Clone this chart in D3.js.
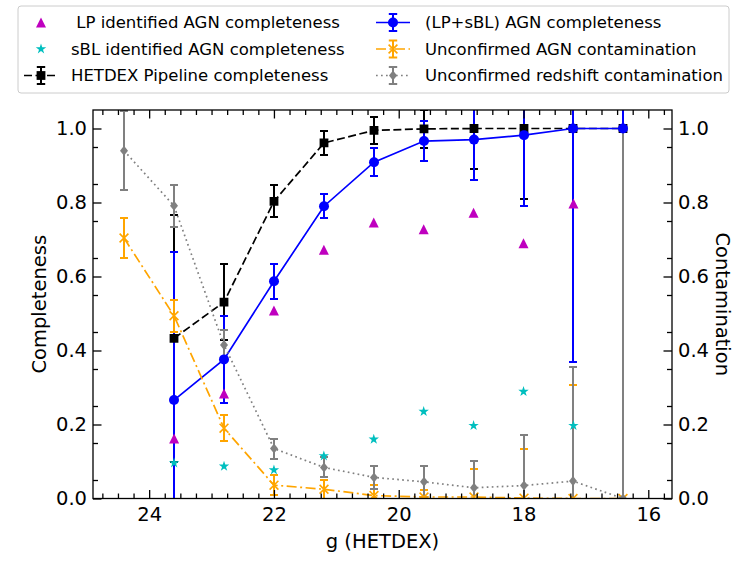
<!DOCTYPE html>
<html><head><meta charset="utf-8">
<script src="https://cdn.jsdelivr.net/npm/d3@7"></script>
<style>
body{margin:0;background:#fff;}
svg{display:block;font-family:"DejaVu Sans",sans-serif;}
</style></head>
<body><svg id="c" width="747" height="561"></svg>
<script>
// ---- data ----
const bins = [24.4, 23.6, 22.8, 22.0, 21.2, 20.4, 19.6, 18.8, 18.0, 17.2, 16.4];
const redshiftContam    = [0.940, 0.791, 0.415, 0.135, 0.084, 0.057, 0.045, 0.029, 0.035, 0.047, 0.0];
const redshiftContamErr = [0.107, 0.056, 0.040, 0.027, 0.027, 0.031, 0.042, 0.072, 0.137, 0.309, 1.0];
const agnContam    = [0.704, 0.494, 0.190, 0.036, 0.025, 0.008, 0.004, 0.004, 0.001, 0.0, 0.0];
const agnContamErr = [0.054, 0.043, 0.035, 0.027, 0.025, 0.028, 0.020, 0.075, 0.133, 0.308, 0.0];
const compBins = [23.6, 22.8, 22.0, 21.2, 20.4, 19.6, 18.8, 18.0, 17.2, 16.4];
const pipelineComp    = [0.433, 0.531, 0.803, 0.961, 0.995, 0.999, 1.0, 1.0, 1.0, 1.0];
const pipelineCompErr = [0.334, 0.103, 0.043, 0.032, 0.037, 0.052, 0.109, 0.190, 0.632, 1.1];
const lpsblComp    = [0.266, 0.376, 0.587, 0.790, 0.909, 0.966, 0.970, 0.982, 1.0, 1.0];
const lpsblCompErr = [0.399, 0.118, 0.048, 0.033, 0.037, 0.055, 0.110, 0.192, 0.632, 1.1];
const idBins = [23.6, 22.8, 22.0, 21.2, 20.4, 19.6, 18.8, 18.0, 17.2];
const lpComp  = [0.162, 0.284, 0.508, 0.672, 0.746, 0.728, 0.772, 0.690, 0.797];
const sblComp = [0.096, 0.087, 0.077, 0.115, 0.160, 0.235, 0.197, 0.289, 0.197];
const xMajorTicks = [24, 22, 20, 18, 16];
const yMajorTicks = [0.0, 0.2, 0.4, 0.6, 0.8, 1.0];
const legendLabels = [" LP identified AGN completeness", "sBL identified AGN completeness", "HETDEX Pipeline completeness",
  "(LP+sBL) AGN completeness", "Unconfirmed AGN contamination", "Unconfirmed redshift contamination"];

// ---- layout ----
const svg = d3.select("#c");
const L = 93, R = 672, T = 110, B = 498.5;
const x = d3.scaleLinear().domain([24.9, 15.62]).range([L, R]);
const y = d3.scaleLinear().domain([0, 1.05]).range([B, T]);
const FS = 19.5, LFS = 16.5;

svg.append("defs").append("clipPath").attr("id", "clip")
  .append("rect").attr("x", L).attr("y", T).attr("width", R - L).attr("height", B - T);

// marker path generators
const mk = {
  circle: s => `M${s},0A${s},${s} 0 1,1 ${-s},0A${s},${s} 0 1,1 ${s},0Z`,
  square: s => `M${-s},${-s}H${s}V${s}H${-s}Z`,
  tri: s => `M0,${-s}L${s},${s}L${-s},${s}Z`,
  diamond: s => `M0,${-s*1.25}L${s},0L0,${s*1.25}L${-s},0Z`,
  x: s => `M${-s},${-s}L${s},${s}M${-s},${s}L${s},${-s}`,
  star: s => d3.symbol(d3.symbolStar, s * s * 1.25)()
};

const series = [
  {name:"pipe", xs: compBins, ys: pipelineComp, err: pipelineCompErr, color:"#000000", dash:"8,3.5", marker:"square", ms:4.4},
  {name:"lpsbl", xs: compBins, ys: lpsblComp, err: lpsblCompErr, color:"#0000ff", dash:null, marker:"circle", ms:5},
  {name:"agn", xs: bins, ys: agnContam, err: agnContamErr, color:"#ffa500", dash:"10,3.5,2,3.5", marker:"x", ms:4.4},
  {name:"zc", xs: bins, ys: redshiftContam, err: redshiftContamErr, color:"#808080", dash:"1.7,3.3", marker:"diamond", ms:4}
];

const plot = svg.append("g").attr("clip-path", "url(#clip)");
const cap = 4.2;

// error bars first
series.forEach(s => {
  const g = plot.append("g").attr("shape-rendering", "crispEdges");
  s.xs.forEach((xv, i) => {
    const e = s.err[i];
    if (e <= 0) return;
    const px = Math.round(x(xv)), y0 = y(s.ys[i] - e), y1 = y(s.ys[i] + e);
    g.append("line").attr("x1", px).attr("x2", px).attr("y1", y0).attr("y2", y1)
      .attr("stroke", s.color).attr("stroke-width", 2);
    [y0, y1].forEach(cy => g.append("line").attr("x1", px - cap).attr("x2", px + cap)
      .attr("y1", cy).attr("y2", cy).attr("stroke", s.color).attr("stroke-width", 2));
  });
});

// scatter-only series
const magenta = "#bf00bf", cyan = "#00bfbf";
plot.append("g").selectAll("path").data(idBins.map((b, i) => [b, lpComp[i]])).join("path")
  .attr("d", mk.tri(5)).attr("transform", d => `translate(${x(d[0])},${y(d[1])})`).attr("fill", magenta);
plot.append("g").selectAll("path").data(idBins.map((b, i) => [b, sblComp[i]])).join("path")
  .attr("d", mk.star(5.2)).attr("transform", d => `translate(${x(d[0])},${y(d[1])})`).attr("fill", cyan);

// lines + markers
function drawMarker(g, type, s, color, px, py) {
  const p = g.append("path").attr("d", mk[type](s)).attr("transform", `translate(${px},${py})`);
  if (type === "x") p.attr("fill", "none").attr("stroke", color).attr("stroke-width", 1.6);
  else p.attr("fill", color);
}
series.forEach(s => {
  const g = plot.append("g");
  const pts = s.xs.map((xv, i) => [Math.round(x(xv)), y(s.ys[i])]);
  const path = g.append("path").attr("d", d3.line()(pts)).attr("fill", "none")
    .attr("stroke", s.color).attr("stroke-width", 1.7);
  if (s.dash) path.attr("stroke-dasharray", s.dash);
  pts.forEach(p => drawMarker(g, s.marker, s.ms, s.color, p[0], p[1]));
});

// ---- axes ----
function styleAxis(g) {
  g.select(".domain").remove();
  g.selectAll("line").attr("stroke", "#000").attr("stroke-width", 1.3);
  g.selectAll("text").attr("font-size", FS).attr("fill", "#000").attr("font-family", "DejaVu Sans");
}
const xMinor = d3.range(15.75, 24.9, 0.25).filter(v => !xMajorTicks.some(t => Math.abs(t - v) < 1e-6));
const yMinor = d3.range(0.05, 1.05, 0.1).map(v => +v.toFixed(2));

svg.append("g").attr("transform", `translate(0,${B})`)
  .call(d3.axisBottom(x).tickValues(xMajorTicks).tickFormat(d3.format("d")).tickSizeInner(-8.5).tickSizeOuter(0).tickPadding(9)).call(styleAxis);
svg.append("g").attr("transform", `translate(0,${B})`)
  .call(d3.axisBottom(x).tickValues(xMinor).tickFormat("").tickSizeInner(-5).tickSizeOuter(0)).call(styleAxis);
svg.append("g").attr("transform", `translate(0,${T})`)
  .call(d3.axisTop(x).tickValues(xMajorTicks).tickFormat("").tickSizeInner(-8.5).tickSizeOuter(0)).call(styleAxis);
svg.append("g").attr("transform", `translate(0,${T})`)
  .call(d3.axisTop(x).tickValues(xMinor).tickFormat("").tickSizeInner(-5).tickSizeOuter(0)).call(styleAxis);

svg.append("g").attr("transform", `translate(${L},0)`)
  .call(d3.axisLeft(y).tickValues(yMajorTicks).tickFormat(d3.format(".1f")).tickSizeInner(-8.5).tickSizeOuter(0).tickPadding(6)).call(styleAxis);
svg.append("g").attr("transform", `translate(${L},0)`)
  .call(d3.axisLeft(y).tickValues(yMinor).tickFormat("").tickSizeInner(-5).tickSizeOuter(0)).call(styleAxis);
svg.append("g").attr("transform", `translate(${R},0)`)
  .call(d3.axisRight(y).tickValues(yMajorTicks).tickFormat(d3.format(".1f")).tickSizeInner(-8.5).tickSizeOuter(0).tickPadding(6)).call(styleAxis);
svg.append("g").attr("transform", `translate(${R},0)`)
  .call(d3.axisRight(y).tickValues(yMinor).tickFormat("").tickSizeInner(-5).tickSizeOuter(0)).call(styleAxis);

svg.append("rect").attr("x", L).attr("y", T).attr("width", R - L).attr("height", B - T)
  .attr("fill", "none").attr("stroke", "#000").attr("stroke-width", 1.3);

// axis labels
svg.append("text").attr("x", (L + R) / 2).attr("y", 548).attr("text-anchor", "middle")
  .attr("font-size", FS).text("g (HETDEX)");
svg.append("text").attr("transform", `translate(46,${(T + B) / 2}) rotate(-90)`).attr("text-anchor", "middle")
  .attr("font-size", FS).text("Completeness");
svg.append("text").attr("transform", `translate(716,${(T + B) / 2}) rotate(90)`).attr("text-anchor", "middle")
  .attr("font-size", FS).text("Contamination");

// ---- legend ----
const lg = svg.append("g");
lg.append("rect").attr("x", 18).attr("y", 6).attr("width", 711).attr("height", 87).attr("rx", 3)
  .attr("fill", "#fff").attr("fill-opacity", 0.8).attr("stroke", "#cccccc").attr("stroke-width", 1);
const rowsY = [22.5, 49, 75.5];
const colX = [41, 393];
const textX = [71, 425];
const entries = [
  {col:0,row:0,type:"scatter",marker:"tri",ms:5,color:magenta},
  {col:0,row:1,type:"scatter",marker:"star",ms:5.2,color:cyan},
  {col:0,row:2,type:"eb",s:series[0]},
  {col:1,row:0,type:"eb",s:series[1]},
  {col:1,row:1,type:"eb",s:series[2]},
  {col:1,row:2,type:"eb",s:series[3]}
];
entries.forEach((e, i) => {
  const cx = colX[e.col], cy = rowsY[e.row];
  if (e.type === "scatter") {
    drawMarker(lg, e.marker, e.ms, e.color, cx, cy);
  } else {
    const s = e.s;
    const ln = lg.append("line").attr("x1", cx - 17).attr("x2", cx + 17).attr("y1", cy).attr("y2", cy)
      .attr("stroke", s.color).attr("stroke-width", 1.7);
    if (s.dash) ln.attr("stroke-dasharray", s.dash);
    lg.append("line").attr("x1", cx).attr("x2", cx).attr("y1", cy - 8.5).attr("y2", cy + 8.5)
      .attr("stroke", s.color).attr("stroke-width", 2);
    [cy - 8.5, cy + 8.5].forEach(yy => lg.append("line").attr("x1", cx - cap).attr("x2", cx + cap)
      .attr("y1", yy).attr("y2", yy).attr("stroke", s.color).attr("stroke-width", 2));
    drawMarker(lg, s.marker, s.ms, s.color, cx, cy);
  }
  lg.append("text").attr("x", textX[e.col]).attr("y", cy).attr("dy", "0.35em")
    .attr("font-size", LFS).style("white-space", "pre").text(legendLabels[i]);
});
</script></body></html>
